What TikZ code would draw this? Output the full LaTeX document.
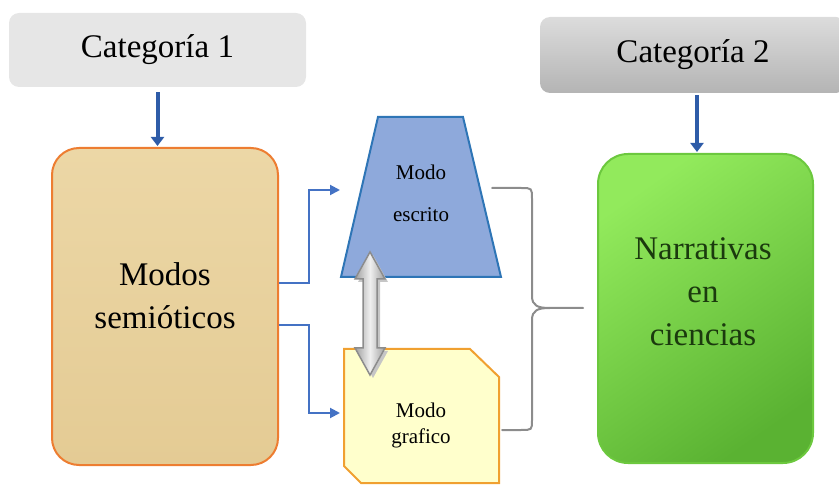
\documentclass[tikz,border=0pt]{standalone}
\usepackage{fontspec}
\setmainfont{Liberation Serif}
\usetikzlibrary{arrows.meta}

\definecolor{catlight}{HTML}{E6E6E6}
\definecolor{cattop}{HTML}{DCDCDC}
\definecolor{catbot}{HTML}{B4B4B4}
\definecolor{arrowblue}{HTML}{2E5CA8}
\definecolor{lineblue}{HTML}{4472C4}
\definecolor{papyrusA}{HTML}{ECD7A6}
\definecolor{papyrusB}{HTML}{E4CB94}
\definecolor{modoorange}{HTML}{ED7D31}
\definecolor{greenA}{HTML}{92EA5C}
\definecolor{greenB}{HTML}{5AB232}
\definecolor{greenline}{HTML}{6CC83E}
\definecolor{greentext}{HTML}{1B3A0E}
\definecolor{escfill}{HTML}{8EA9DB}
\definecolor{escline}{HTML}{2E75B6}
\definecolor{grafill}{HTML}{FFFFCC}
\definecolor{graline}{HTML}{F0A030}
\definecolor{bracegray}{HTML}{8C8C8C}

\tikzset{
  catbox/.style={rounded corners=10pt, inner sep=0pt, font=\fontsize{33}{40}\selectfont},
  bigbox/.style={draw, line width=2pt, inner sep=0pt},
  bigtext/.style={align=center, font=\fontsize{33}{43}\selectfont},
  modotext/.style={align=center, font=\fontsize{21}{42}\selectfont},
  downarrow/.style={draw=arrowblue, line width=4pt, -{Triangle[length=9pt,width=13pt]}},
  modoline/.style={draw=lineblue, line width=2pt, -{Triangle[length=10pt,width=10pt]}},
  bracepath/.style={draw=bracegray, line width=2pt, line cap=round},
}

\begin{document}
\begin{tikzpicture}[x=1pt,y=-1pt]
            \useasboundingbox (0,0) rectangle (839,489);

            % categorias
            \node[catbox, fill=catlight, minimum width=297pt, minimum height=74pt] (cat1) at (157.5,50) {Categoría 1};
            \node[catbox, top color=cattop, bottom color=catbot, minimum width=306pt, minimum height=76pt] (cat2) at (693,55) {Categoría 2};

            % cajas grandes
            \node[bigbox, draw=modoorange, top color=papyrusA, bottom color=papyrusB, rounded corners=27pt, minimum width=226pt, minimum height=317pt] (modos) at (165,306.5) {};
            \node[bigtext] (modoslbl) at (165,296) {Modos\\semióticos};
            \node[bigbox, draw=greenline, top color=greenA, bottom color=greenB, shading angle=35, rounded corners=30pt, minimum width=215pt, minimum height=309pt] (narr) at (705.5,308.5) {};
            \node[bigtext, text=greentext] (narrlbl) at (703,292) {Narrativas\\en\\ciencias};

            % modos
            \draw[escline, line width=2pt, fill=escfill] (378,117) -- (463,117) -- (501,277) -- (341,277) -- cycle;
            \node[modotext] (escrito) at (421,193) {Modo\\escrito};
            \draw[graline, line width=2pt, fill=grafill] (344,349) -- (470,349) -- (499,377) -- (499,483) -- (361,483) -- (344,466) -- cycle;
            \node[modotext, font=\fontsize{21}{26}\selectfont] (grafico) at (421,425) {Modo\\grafico};

            \coordinate (escin) at (340,190);
            \coordinate (grafin) at (340,413);

            % flechas
            \draw[downarrow, shorten <=5pt, shorten >=1pt] (cat1.south) -- (cat1.south |- modos.north);
            \draw[downarrow, shorten <=2pt, shorten >=1pt] ([xshift=4pt]cat2.south) -- ([xshift=4pt]cat2.south |- narr.north);
            \draw[modoline] ([yshift=23pt]modos.east) -- ++(30,0) |- (escin);
            \draw[modoline] ([yshift=-19pt]modos.east) -- ++(30,0) |- (grafin);

            % doble flecha
            \fill[gray!45] (373,255) -- (388,282) -- (380,282) -- (380,351) -- (388,351) -- (373,378) -- (358,351) -- (366,351) -- (366,282) -- (358,282) -- cycle;
            \draw[draw=gray!110!black, line width=1.5pt, left color=gray!75, right color=gray!75, middle color=gray!12]
                (370,252) -- (385,279) -- (377,279) -- (377,348) -- (385,348) -- (370,375) -- (355,348) -- (363,348) -- (363,279) -- (355,279) -- cycle;

            % llave
            \draw[bracepath] (492,188) -- (521,188) .. controls (532,188) .. (532,199) -- (532,296) .. controls (532,306) and (538,308) .. (550,308) -- (583,308);
            \draw[bracepath] (550,308) .. controls (538,308) and (532,310) .. (532,320) -- (532,420) .. controls (532,430) .. (521,430) -- (502,430);
        \end{tikzpicture}
\end{document}
